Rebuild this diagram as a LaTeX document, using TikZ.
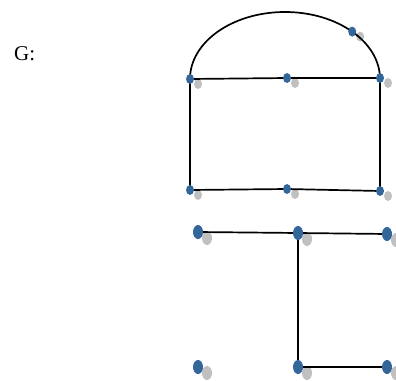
\documentclass[tikz,border=0pt]{standalone}
\usepackage{fontspec}
\setmainfont{Liberation Serif}
\definecolor{nodeblue}{HTML}{336699}
\definecolor{shadowgray}{HTML}{C0C0C0}
\tikzset{
  bsmall/.style={ellipse, fill=nodeblue, minimum width=8pt, minimum height=10pt, inner sep=0pt},
  gsmall/.style={ellipse, fill=shadowgray, minimum width=8pt, minimum height=10pt, inner sep=0pt},
  bbig/.style={ellipse, fill=nodeblue, minimum width=10pt, minimum height=14pt, inner sep=0pt},
  gbig/.style={ellipse, fill=shadowgray, minimum width=10pt, minimum height=14pt, inner sep=0pt},
  edge/.style={draw=black, line width=1.7pt},
}
\usetikzlibrary{shapes.geometric}
\begin{document}
\begin{tikzpicture}[x=1pt,y=-1pt]
\useasboundingbox (0,0) rectangle (396,380);
\node[anchor=base west, font=\fontsize{21}{24}\selectfont, inner sep=0pt] (lbl) at (14,60) {G:};
% coordinates of upper graph
\coordinate (c1) at (190,79);
\coordinate (c2) at (287,78);
\coordinate (c3) at (380,78);
\coordinate (c4) at (190,190);
\coordinate (c5) at (287,189);
\coordinate (c6) at (380,191);
\coordinate (c7) at (352.2,31.6);
% lower graph
\coordinate (d1) at (198,232);
\coordinate (d2) at (298,233);
\coordinate (d3) at (387,234);
\coordinate (d4) at (198,367);
\coordinate (d5) at (298,367);
\coordinate (d6) at (387,367);
% shadows
\foreach \c in {c1,c2,c3,c4,c5,c6,c7} \node[gsmall] at ([shift={(8,5)}]\c) {};
\foreach \c in {d1,d2,d3,d4,d5,d6} \node[gbig] at ([shift={(9,6)}]\c) {};
% edges
\draw[edge] (c1) arc[start angle=180, end angle=360, x radius=95, y radius=67];
\draw[edge] (c1) -- (c2) -- (c3) -- (c6) -- (c5) -- (c4) -- (c1);
\draw[edge] (d1) -- (d2) -- (d3);
\draw[edge] (d2) -- (d5) -- (d6);
% nodes
\foreach \c in {c1,c2,c3,c4,c5,c6,c7} \node[bsmall] (n\c) at (\c) {};
\foreach \c in {d1,d2,d3,d4,d5,d6} \node[bbig] (n\c) at (\c) {};
\end{tikzpicture}
\end{document}
